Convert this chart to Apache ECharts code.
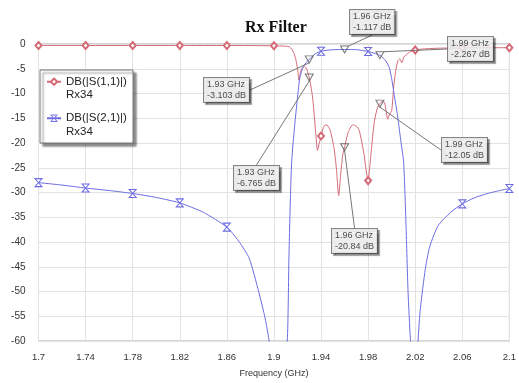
<!DOCTYPE html>
<html>
<head>
<meta charset="utf-8">
<title>Rx Filter</title>
<script src="https://cdn.jsdelivr.net/npm/echarts@6/dist/echarts.min.js"></script>
<style>
  html, body { margin: 0; padding: 0; background: #fff; }
  #chart { width: 519px; height: 383px; }
</style>
</head>
<body>
<div id="chart"></div>
<script>
// sweep: frequency in GHz, magnitude in dB
var s11Freq = [1.7, 1.74, 1.78, 1.82, 1.86, 1.9, 1.905, 1.91, 1.9133, 1.9155, 1.9175, 1.919, 1.9203, 1.9212, 1.922,
  1.9232, 1.926, 1.928, 1.93, 1.9325, 1.9339, 1.9355, 1.937, 1.9385, 1.94, 1.942, 1.944, 1.946, 1.948, 1.951,
  1.953, 1.955, 1.957, 1.9585, 1.96, 1.963, 1.967, 1.97, 1.9725, 1.9767, 1.978, 1.98, 1.9815, 1.9831, 1.9854,
  1.988, 1.99, 1.992, 1.9939, 1.9955, 1.9966, 1.998, 2.0, 2.0016, 2.0033, 2.0053, 2.007, 2.0085, 2.0105, 2.015,
  2.02, 2.03, 2.04, 2.06, 2.08, 2.1];
var s11Db = [-0.3, -0.3, -0.3, -0.3, -0.3, -0.35, -0.4, -0.45, -0.6, -1.2, -2.2, -3.6, -5.5, -7.3, -6.4,
  -5.2, -4.5, -5.2, -6.765, -10.2, -13.5, -18.0, -21.5, -20.0, -18.6, -16.9, -16.3, -16.6, -17.6, -21.0,
  -25.0, -30.6, -25.5, -22.3, -20.84, -17.9, -16.3, -16.6, -17.5, -22.5, -25.0, -27.6, -24.5, -20.5, -15.5,
  -12.8, -12.05, -11.6, -11.8, -13.8, -15.2, -14.3, -13.5, -9.0, -5.6, -3.4, -3.0, -3.8, -2.6, -1.7,
  -1.2, -0.95, -0.85, -0.8, -0.75, -0.75];

var s21Freq = [1.7, 1.72, 1.74, 1.76, 1.78, 1.8, 1.82, 1.84, 1.86, 1.87, 1.879, 1.887, 1.8925, 1.8957, 1.9,
  1.905, 1.9113, 1.9127, 1.914, 1.915, 1.917, 1.9195, 1.922, 1.925, 1.93, 1.935, 1.94, 1.95, 1.96, 1.97,
  1.98, 1.985, 1.99, 1.995, 1.998, 2.0, 2.002, 2.005, 2.008, 2.0102, 2.0122, 2.0139, 2.0159, 2.02, 2.0224,
  2.0244, 2.0286, 2.032, 2.036, 2.04, 2.05, 2.06, 2.07, 2.08, 2.09, 2.1];
var s21Db = [-28.0, -28.5, -29.1, -29.6, -30.2, -31.0, -32.1, -34.0, -37.0, -39.8, -43.3, -50.0, -55.4, -59.7, -68.0,
  -75.0, -60.0, -43.3, -31.0, -24.0, -18.0, -12.0, -6.8, -4.5, -3.103, -2.0, -1.45, -1.15, -1.117, -1.15,
  -1.5, -1.85, -2.267, -3.4, -4.8, -7.0, -10.0, -14.5, -20.0, -24.0, -36.7, -50.0, -59.7, -75.0, -60.0,
  -53.4, -45.4, -41.2, -38.5, -36.5, -34.0, -32.3, -31.1, -30.3, -29.7, -29.2];

// marker readouts
var markerFreq = [1.93, 1.96, 1.99];
var s11MarkerDb = [-6.765, -20.84, -12.05];
var s21MarkerDb = [-3.103, -1.117, -2.267];

var traceNames = ['DB(|S(1,1)|)', 'DB(|S(2,1)|)'];
var traceSource = 'Rx34';

var RED = '#d46a76';
var BLUE = '#6c6ce0';
var FONT = '"Liberation Sans", Arial, sans-serif';
var HOURGLASS = 'path://M0,0 L10,0 L0,10 L10,10 Z';

// where the marker readout boxes sit (top-left, px)
var s11BoxPos = [[234, 166], [332, 229], [442, 138]];
var s21BoxPos = [[204, 78], [350, 10], [448, 37]];

function onTick(f) {
  var k = (f - 1.7) / 0.04;
  return Math.abs(k - Math.round(k)) < 1e-6;
}

function traceData(freqs, vals) {
  return freqs.map(function (f, i) {
    var item = { value: [f, vals[i]] };
    if (!onTick(f)) item.symbol = 'none';
    return item;
  });
}

function markerData(vals) {
  return markerFreq.map(function (f, i) { return [f, vals[i]]; });
}

function markerSeries(name, vals, boxPos) {
  return {
    name: name,
    type: 'scatter',
    z: 5,
    silent: true,
    symbol: 'path://M0,0 L10,0 L5,9 Z',
    symbolSize: [8, 7],
    itemStyle: { color: 'rgba(255,255,255,0)', borderColor: '#555', borderWidth: 1 },
    data: markerData(vals),
    label: {
      show: true,
      fontFamily: FONT,
      fontSize: 9,
      lineHeight: 10.5,
      color: '#222',
      backgroundColor: '#fff',
      borderColor: '#666',
      borderWidth: 1,
      padding: [1.5, 3, 1.5, 3],
      shadowColor: 'rgba(0,0,0,0.45)',
      shadowOffsetX: 2,
      shadowOffsetY: 2,
      shadowBlur: 1,
      formatter: function (p) {
        return p.value[0] + ' GHz\n' + p.value[1] + ' dB';
      }
    },
    labelLine: { show: true, lineStyle: { color: '#777', width: 1 } },
    labelLayout: function (p) {
      var pos = boxPos[p.dataIndex];
      return { x: pos[0], y: pos[1], align: 'left', verticalAlign: 'top' };
    }
  };
}

// blank first line keeps the icon level with the trace name
function legendLabel(n) { return '\n' + n + '\n' + traceSource; }

var legendText = {
  fontFamily: FONT,
  fontSize: 11.5,
  lineHeight: 13.5,
  color: '#222'
};

var chart = echarts.init(document.getElementById('chart'));
chart.setOption({
  animation: false,
  backgroundColor: '#fff',
  title: {
    text: 'Rx Filter',
    left: 245,
    top: 20,
    padding: 0,
    textStyle: { fontFamily: '"Liberation Serif", "Times New Roman", serif', fontWeight: 'bold', fontSize: 16, color: '#111' }
  },
  graphic: [{
    type: 'rect',
    left: 39.5,
    top: 69.5,
    z: 5,
    shape: { width: 93, height: 73 },
    style: {
      fill: '#fff', stroke: '#777', lineWidth: 1,
      shadowBlur: 2, shadowOffsetX: 3, shadowOffsetY: 3, shadowColor: 'rgba(0,0,0,0.45)'
    }
  }],
  legend: [{
    data: [{ name: traceNames[0] }],
    left: 46, top: 61.5, padding: 0, z: 10,
    itemWidth: 14, itemHeight: 8,
    textStyle: legendText,
    formatter: legendLabel
  }, {
    data: [{ name: traceNames[1], itemStyle: { color: '#fff', borderColor: BLUE, borderWidth: 1 } }],
    left: 46, top: 98, padding: 0, z: 10,
    itemWidth: 14, itemHeight: 8,
    textStyle: legendText,
    formatter: legendLabel
  }],
  grid: {
    left: 38.5, right: 9, top: 44, bottom: 40,
    show: true, borderColor: '#a8a8a8', borderWidth: 1
  },
  xAxis: {
    type: 'value',
    min: 1.7, max: 2.1, interval: 0.04,
    name: 'Frequency (GHz)',
    nameLocation: 'middle',
    nameGap: 28,
    nameTextStyle: { fontFamily: FONT, fontSize: 9, color: '#333' },
    axisLine: { show: false },
    axisTick: { show: false },
    splitLine: { lineStyle: { color: '#e2e2e2' } },
    axisLabel: {
      fontFamily: FONT, fontSize: 9.5, color: '#333', margin: 11,
      formatter: function (v) { return String(+v.toFixed(2)); }
    }
  },
  yAxis: {
    type: 'value',
    min: -60, max: 0, interval: 5,
    axisLine: { show: false },
    axisTick: { show: false },
    splitLine: { lineStyle: { color: '#e2e2e2' } },
    axisLabel: { fontFamily: FONT, fontSize: 10, color: '#333', margin: 13 }
  },
  series: [{
    name: traceNames[0],
    type: 'line',
    smooth: 0.2,
    symbol: 'emptyDiamond',
    symbolSize: [6, 7],
    showAllSymbol: true,
    color: RED,
    lineStyle: { color: RED, width: 1 },
    itemStyle: { color: RED, borderWidth: 1 },
    emphasis: { disabled: true },
    data: traceData(s11Freq, s11Db)
  }, {
    name: traceNames[1],
    type: 'line',
    smooth: 0.2,
    symbol: HOURGLASS,
    symbolSize: [7, 8],
    showAllSymbol: true,
    color: BLUE,
    lineStyle: { color: BLUE, width: 1 },
    itemStyle: { color: '#fff', borderColor: BLUE, borderWidth: 1 },
    emphasis: { disabled: true },
    data: traceData(s21Freq, s21Db)
  },
  markerSeries('s11 markers', s11MarkerDb, s11BoxPos),
  markerSeries('s21 markers', s21MarkerDb, s21BoxPos)]
});
</script>
</body>
</html>
